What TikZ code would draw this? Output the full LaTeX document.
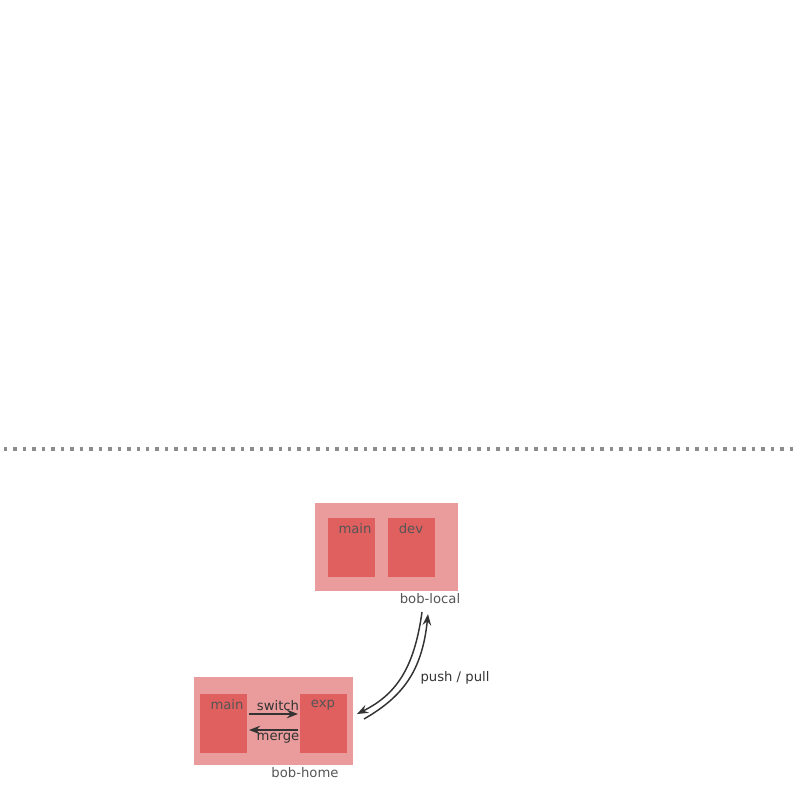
\documentclass[tikz,border=0pt]{standalone}
\usepackage{fontspec}
\setmainfont{DejaVu Sans}
\usetikzlibrary{arrows.meta}
\definecolor{outerc}{HTML}{EA9C9C}
\definecolor{innerc}{HTML}{E05F5F}
\definecolor{labc}{HTML}{555555}
\definecolor{arrc}{HTML}{333333}
\begin{document}
\begin{tikzpicture}[x=0.75pt,y=-0.75pt,
  outerbox/.style={fill=outerc,draw=none},
  innerbox/.style={fill=innerc,draw=none},
  lab/.style={text=labc,font=\fontsize{9.9pt}{11pt}\selectfont,inner sep=0pt},
  alab/.style={text=arrc,font=\fontsize{9.9pt}{11pt}\selectfont,inner sep=0pt},
  conn/.style={draw=arrc,line width=1.1pt,-{Stealth[length=8.5pt,width=6.5pt,inset=3pt]}}]
\useasboundingbox (0,0) rectangle (800,800);
% dotted separator
\draw[draw=gray!90,line width=2.6pt,dash pattern=on 2.6pt off 4.5pt] (4,449) -- (797,449);
% bob-local
\fill[outerbox] (315,503) rectangle (458,591);
\fill[innerbox] (328,518) rectangle (375,577);
\fill[innerbox] (388,518) rectangle (435,577);
\node[lab] (lmain) at (355,529) {main};
\node[lab] (ldev) at (411,529) {dev};
\node[lab] (llab) at (430,599) {bob-local};
% bob-home
\fill[outerbox] (194,677) rectangle (353,765);
\fill[innerbox] (200,694) rectangle (247,753);
\fill[innerbox] (300,694) rectangle (347,753);
\node[lab] (hmain) at (227,705) {main};
\node[lab] (hexp) at (323,705) {exp};
\node[lab] (hlab) at (305,773) {bob-home};
% switch / merge
\coordinate (s1) at (249,714);
\coordinate (s2) at (298,714);
\coordinate (m1) at (298,730);
\coordinate (m2) at (249,730);
\draw[conn] (s1) -- (s2);
\draw[conn] (m1) -- (m2);
\node[alab] (sw) at (278,706) {switch};
\node[alab] (mg) at (278,738) {merge};
% push / pull
\coordinate (p1) at (422,612);
\coordinate (p2) at (357,714);
\coordinate (q1) at (364,719);
\coordinate (q2) at (428,614);
\draw[conn] (p1) .. controls (414,670) and (395,695) .. (p2);
\draw[conn] (q1) .. controls (402,697) and (422,672) .. (q2);
\node[alab] (pp) at (455,678) {push / pull};
\end{tikzpicture}
\end{document}
